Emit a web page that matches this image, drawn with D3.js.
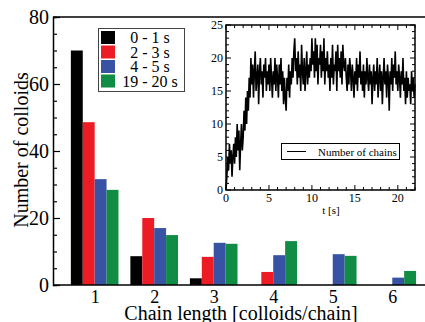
<!DOCTYPE html>
<html>
<head>
<meta charset="utf-8">
<script src="https://cdn.jsdelivr.net/npm/d3@7"></script>
<style>
  body { margin: 0; background: #fff; }
  svg { display: block; }
  text { font-family: "Liberation Serif", "DejaVu Serif", serif; }
</style>
</head>
<body>
<div id="chart"></div>
<script>
// bar chart data
var lengths = [1, 2, 3, 4, 5, 6];
var seriesNames = ["0 - 1 s", "2 - 3 s", "4 - 5 s", "19 - 20 s"];
var seriesColors = ["#000000", "#ed1c24", "#3953a4", "#108c44"];
var s0_1 = [70, 8.6, 2, 0, 0, 0];
var s2_3 = [48.6, 20, 8.4, 3.9, 0, 0];
var s4_5 = [31.6, 17, 12.6, 8.9, 9.2, 2.2];
var s19_20 = [28.4, 14.9, 12.3, 13.1, 8.7, 4.2];
var yTicks = [0, 20, 40, 60, 80];

// inset: number of chains, sampled every 0.1 s
var tStep = 0.1;
var chains = [
  0, 2, 5, 3, 7, 4, 6, 2, 5, 7,
  4, 8, 5, 10, 6, 9, 3, 7, 10, 6,
  8, 12, 9, 14, 10, 15, 12, 17, 14, 20,
  16, 19, 14, 18, 21, 15, 17, 19, 13, 18,
  20, 16, 18, 14, 19, 17, 20, 15, 18, 16,
  19, 15, 20, 17, 14, 18, 16, 20, 15, 19,
  17, 14, 19, 16, 20, 15, 18, 13, 17, 14,
  12, 17, 15, 19, 14, 18, 16, 20, 17, 21,
  23, 18, 20, 16, 21, 17, 19, 15, 22, 18,
  16, 20, 15, 18, 21, 16, 19, 17, 20, 18,
  23, 19, 21, 17, 23, 18, 22, 16, 20, 19,
  22, 17, 21, 18, 23, 16, 20, 18, 21, 17,
  19, 15, 20, 17, 22, 16, 19, 18, 21, 15,
  22, 18, 20, 17, 21, 16, 22, 19, 18, 20,
  17, 15, 19, 16, 20, 18, 15, 19, 17, 14,
  18, 16, 20, 15, 19, 17, 21, 16, 18, 15,
  19, 14, 18, 16, 20, 17, 15, 19, 16, 18,
  13, 17, 19, 15, 18, 16, 20, 14, 17, 19,
  15, 18, 13, 17, 20, 16, 18, 14, 19, 17,
  12, 18, 16, 20, 15, 19, 17, 21, 16, 18,
  15, 19, 17, 14, 18, 16, 20, 15, 17, 13,
  18, 14, 17, 15, 16, 13, 18, 15, 17, 14, 16
];
var insetXTicks = [0, 5, 10, 15, 20];
var insetYTicks = [0, 5, 10, 15, 20, 25];

var width = 425, height = 322;

var svg = d3.select("#chart").append("svg")
    .attr("width", width)
    .attr("height", height);

// ---------- main plot ----------
var x = d3.scaleLinear().domain([0.3, 6.55]).range([53, 425]);
var y = d3.scaleLinear().domain([0, 80]).range([285, 17]);

var allSeries = [s0_1, s2_3, s4_5, s19_20];
var barW = 0.2;
var offsets = [-0.4, -0.2, 0, 0.2];

allSeries.forEach(function(vals, si) {
  svg.append("g")
    .attr("fill", seriesColors[si])
    .selectAll("rect")
    .data(vals.map((v, i) => ({len: lengths[i], v: v})).filter(d => d.v > 0))
    .join("rect")
    .attr("x", d => x(d.len + offsets[si]))
    .attr("y", d => y(d.v))
    .attr("width", x(barW) - x(0))
    .attr("height", d => y(0) - y(d.v));
});

// frame top line
svg.append("line")
  .attr("x1", x.range()[0]).attr("x2", x.range()[1] + 2)
  .attr("y1", y(80)).attr("y2", y(80))
  .attr("stroke", "#000").attr("stroke-width", 1.5);

// y axis with inward ticks
var yAxis = svg.append("g")
  .attr("transform", `translate(${x.range()[0]},0)`)
  .call(d3.axisRight(y).tickValues(d3.range(0, 81, 5)).tickSize(4).tickFormat(""));
yAxis.selectAll(".tick line")
  .attr("stroke-width", 1.2)
  .attr("x2", d => d % 20 === 0 ? 7 : 4);
yAxis.select(".domain").attr("stroke-width", 1.5);

svg.append("g")
  .selectAll("text")
  .data(yTicks)
  .join("text")
  .attr("x", 49)
  .attr("y", d => y(d) + 7)
  .attr("text-anchor", "end")
  .attr("font-size", 20)
  .text(d => d);

// x axis
var xAxis = svg.append("g")
  .attr("transform", `translate(0,${y(0)})`)
  .call(d3.axisBottom(x).tickValues(lengths).tickFormat(d3.format("d")).tickSize(0).tickPadding(5));
xAxis.select(".domain").attr("stroke-width", 1.5).attr("d", `M${x.range()[0]},0H${x.range()[1] + 2}`);
xAxis.selectAll(".tick text")
  .attr("font-family", "Liberation Serif, serif")
  .attr("font-size", 18)
  .attr("dy", "0.72em");

svg.append("text")
  .attr("x", 241).attr("y", 320)
  .attr("text-anchor", "middle")
  .attr("font-size", 20)
  .text("Chain length [colloids/chain]");

svg.append("text")
  .attr("transform", "translate(28,150) rotate(-90)")
  .attr("text-anchor", "middle")
  .attr("font-size", 20)
  .text("Number of colloids");

// legend
var lg = svg.append("g");
lg.append("rect")
  .attr("x", 98.5).attr("y", 28.5).attr("width", 86).attr("height", 63)
  .attr("fill", "#fff").attr("stroke", "#444").attr("stroke-width", 1);
seriesNames.forEach(function(name, i) {
  lg.append("rect")
    .attr("x", 101).attr("y", 31 + i * 14.5)
    .attr("width", 14).attr("height", 13)
    .attr("fill", seriesColors[i]);
  lg.append("text")
    .attr("x", 150).attr("y", 43 + i * 14.5)
    .attr("text-anchor", "middle")
    .attr("font-size", 16)
    .text(name);
});

// ---------- inset ----------
var ix = d3.scaleLinear().domain([0, 22]).range([226, 415]);
var iy = d3.scaleLinear().domain([0, 25]).range([190, 25]);

var inset = svg.append("g");
inset.append("rect")
  .attr("x", ix(0)).attr("y", iy(25))
  .attr("width", ix(22) - ix(0)).attr("height", iy(0) - iy(25))
  .attr("fill", "#fff");

var line = d3.line()
  .x((d, i) => ix(i * tStep))
  .y(d => iy(d));

inset.append("path")
  .datum(chains)
  .attr("fill", "none")
  .attr("stroke", "#000")
  .attr("stroke-width", 1.6)
  .attr("d", line);

// inset ticks (inward, on all sides)
var ixMinor = d3.range(0, 23, 1);
var iyMinor = d3.range(0, 26, 1);
inset.append("g")
  .selectAll("line")
  .data(ixMinor)
  .join("line")
  .attr("x1", d => ix(d)).attr("x2", d => ix(d))
  .attr("y1", iy(0)).attr("y2", d => iy(0) - (d % 5 === 0 ? 5 : 3))
  .attr("stroke", "#000");
inset.append("g")
  .selectAll("line")
  .data(ixMinor)
  .join("line")
  .attr("x1", d => ix(d)).attr("x2", d => ix(d))
  .attr("y1", iy(25)).attr("y2", d => iy(25) + (d % 5 === 0 ? 5 : 3))
  .attr("stroke", "#000");
inset.append("g")
  .selectAll("line")
  .data(iyMinor)
  .join("line")
  .attr("y1", d => iy(d)).attr("y2", d => iy(d))
  .attr("x1", ix(0)).attr("x2", d => ix(0) + (d % 5 === 0 ? 5 : 3))
  .attr("stroke", "#000");
inset.append("g")
  .selectAll("line")
  .data(iyMinor)
  .join("line")
  .attr("y1", d => iy(d)).attr("y2", d => iy(d))
  .attr("x1", ix(22)).attr("x2", d => ix(22) - (d % 5 === 0 ? 5 : 3))
  .attr("stroke", "#000");

inset.append("rect")
  .attr("x", ix(0)).attr("y", iy(25))
  .attr("width", ix(22) - ix(0)).attr("height", iy(0) - iy(25))
  .attr("fill", "none").attr("stroke", "#000").attr("stroke-width", 1.5);

inset.append("g")
  .selectAll("text")
  .data(insetYTicks)
  .join("text")
  .attr("x", ix(0) - 3)
  .attr("y", d => iy(d) + 4)
  .attr("text-anchor", "end")
  .attr("font-size", 12)
  .text(d => d);

inset.append("g")
  .selectAll("text")
  .data(insetXTicks)
  .join("text")
  .attr("x", d => ix(d))
  .attr("y", iy(0) + 12)
  .attr("text-anchor", "middle")
  .attr("font-size", 12)
  .text(d => d);

inset.append("text")
  .attr("x", 331).attr("y", 214)
  .attr("text-anchor", "middle")
  .attr("font-size", 11)
  .text("t [s]");

// inset legend
inset.append("rect")
  .attr("x", 281.5).attr("y", 143.5).attr("width", 118).attr("height", 16)
  .attr("fill", "#fff").attr("stroke", "#000").attr("stroke-width", 1);
inset.append("line")
  .attr("x1", 287).attr("x2", 306).attr("y1", 151.5).attr("y2", 151.5)
  .attr("stroke", "#000").attr("stroke-width", 1);
inset.append("text")
  .attr("x", 318).attr("y", 155.5)
  .attr("font-size", 11)
  .text("Number of chains");
</script>
</body>
</html>
